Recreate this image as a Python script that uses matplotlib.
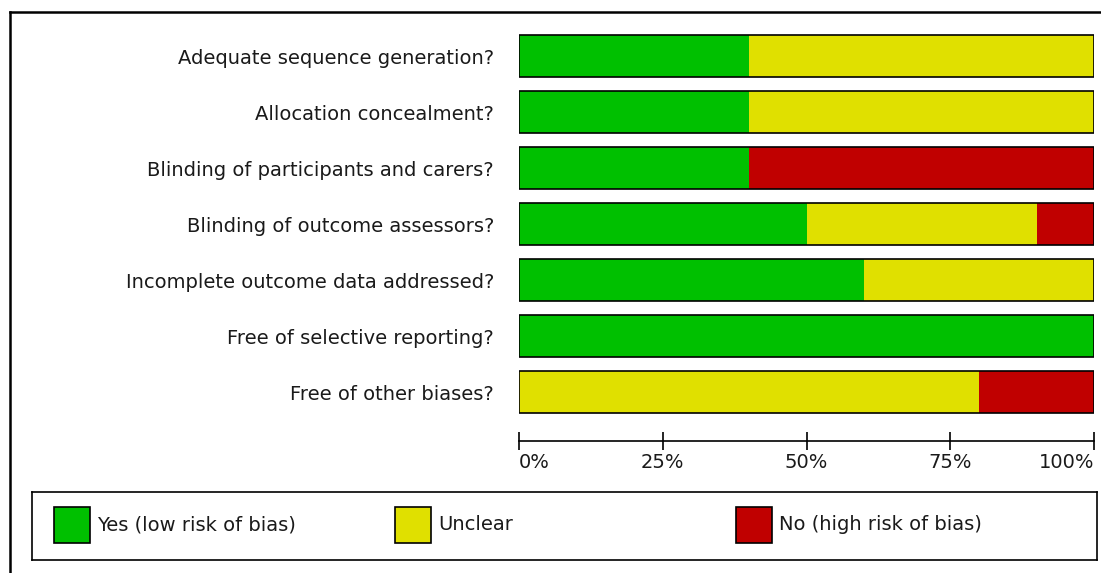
import matplotlib
matplotlib.use('Agg')
import matplotlib.pyplot as plt
from matplotlib.patches import Rectangle
from matplotlib.lines import Line2D

# risk of bias summary (percent of studies)
dominios = ['Adequate sequence generation?', 'Allocation concealment?',
            'Blinding of participants and carers?', 'Blinding of outcome assessors?',
            'Incomplete outcome data addressed?', 'Free of selective reporting?',
            'Free of other biases?']
si = [40, 40, 40, 50, 60, 100, 0]
incierto = [60, 60, 0, 40, 40, 0, 80]
no = [0, 0, 60, 10, 0, 0, 20]

categorias = ['Yes (low risk of bias)', 'Unclear', 'No (high risk of bias)']
colores = ['#00C000', '#E0E000', '#C00000']
ticks = [0, 25, 50, 75, 100]
etiquetas_ticks = ['0%', '25%', '50%', '75%', '100%']

W, H = 1101, 573
fig = plt.figure(figsize=(W / 100, H / 100), dpi=100)
fuente = 'DejaVu Sans'
tam = 14
gris = '#1a1a1a'


def caja(x0, y0, x1, y1):
    # pixel box (top-left origin) -> figure fraction rect
    return [x0 / W, 1 - y1 / H, (x1 - x0) / W, (y1 - y0) / H]


# outer frame (only left and top visible)
fig.add_artist(Line2D([10 / W, 10 / W], [0, 1 - 12 / H], transform=fig.transFigure, color='black', lw=1.8))
fig.add_artist(Line2D([10 / W, 1], [1 - 12 / H, 1 - 12 / H], transform=fig.transFigure, color='black', lw=1.8))

ax = fig.add_axes(caja(519, 28, 1094, 420))
y = list(range(len(dominios)))
izq = [0] * len(dominios)
for valores, color in zip([si, incierto, no], colores):
    ax.barh(y, valores, left=izq, height=0.75, color=color, edgecolor='none')
    izq = [a + b for a, b in zip(izq, valores)]
# black outline around each full bar
ax.barh(y, [100] * len(y), height=0.75, fill=False, edgecolor='black', linewidth=1.2)

ax.set_xlim(0, 100)
ax.set_ylim(len(dominios) - 0.5, -0.5)
ax.set_yticks(y)
ax.set_yticklabels(dominios, fontsize=tam, family=fuente, color=gris)
ax.tick_params(axis='y', length=0, pad=18)
for s in ['top', 'right', 'left']:
    ax.spines[s].set_visible(False)
ax.spines['bottom'].set_position(('outward', 15))
ax.spines['bottom'].set_linewidth(1.2)
ax.set_xticks(ticks)
ax.set_xticklabels(etiquetas_ticks, fontsize=tam, family=fuente, color=gris)
ax.tick_params(axis='x', direction='inout', length=13, width=1.2, pad=2)
lbls = ax.get_xticklabels()
lbls[0].set_horizontalalignment('left')
lbls[-1].set_horizontalalignment('right')

# legend box
lg = fig.add_axes(caja(32, 492, 1097, 560))
lg.set_xlim(0, 1065)
lg.set_ylim(68, 0)
lg.set_xticks([])
lg.set_yticks([])
for s in lg.spines.values():
    s.set_linewidth(1.2)
for i, (nombre, color) in enumerate(zip(categorias, colores)):
    x0 = 22 + i * 341
    lg.add_patch(Rectangle((x0, 15), 36, 36, facecolor=color, edgecolor='black', linewidth=1.2))
    lg.text(x0 + 43, 33, nombre, fontsize=tam, family=fuente, color=gris, va='center', ha='left')

fig.savefig('out.png', dpi=100)
